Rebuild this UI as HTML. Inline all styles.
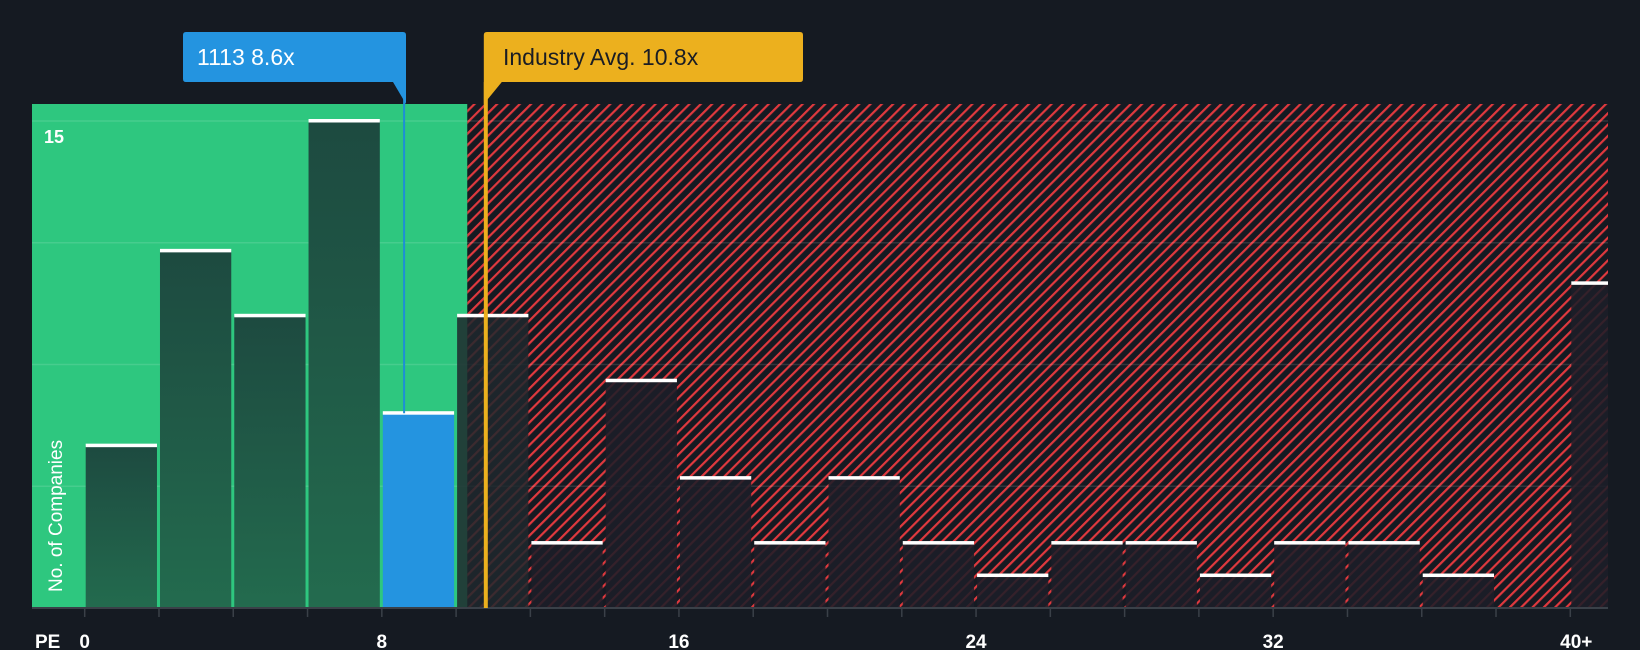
<!DOCTYPE html>
<html><head><meta charset="utf-8"><style>
html,body{margin:0;padding:0;background:#151a22;}
svg{display:block;font-family:"Liberation Sans",sans-serif;}
</style></head><body>
<svg id="chart" width="1640" height="650" viewBox="0 0 1640 650" xmlns="http://www.w3.org/2000/svg">
<defs>
<pattern id="hatch" patternUnits="userSpaceOnUse" width="8" height="8" patternTransform="rotate(45)">
<rect width="8" height="8" fill="#151a22"/>
<rect x="0" y="0" width="2.2" height="8" fill="#e0393e"/>
</pattern>
<linearGradient id="gbar" x1="0" y1="0" x2="0" y2="1">
<stop offset="0" stop-color="#1d4a40"/><stop offset="1" stop-color="#236b4e"/>
</linearGradient>
</defs>
<rect width="1640" height="650" fill="#151a22"/>
<g id="plot"></g>
</svg>
<script>
const binStarts = [0,2,4,6,8,10,12,14,16,18,20,22,24,26,28,30,32,34,36,38,40];
const counts = [5,11,9,15,6,9,2,7,4,2,4,2,1,2,2,1,2,2,1,0,10];
const highlightBin = 4;
const xTickValues = [0,8,16,24,32,40];
const xTickLabels = ["0","8","16","24","32","40+"];
const companyPE = 8.6;
const industryPE = 10.8;
const fairLimit = 10.3;
const yMaxLabel = 15;

const NS="http://www.w3.org/2000/svg";
const g=document.getElementById('plot');
const L=32, R=1608, T=104, B=608;
const x=v=>84.7+v*37.14;
const y=v=>B-v*(B-121)/15;
function mk(tag,attrs,parent){const e=document.createElementNS(NS,tag);for(const k in attrs)e.setAttribute(k,attrs[k]);(parent||g).appendChild(e);return e;}

let e;
e=mk('rect',{x:x(fairLimit),y:T,width:R-x(fairLimit),height:B-T,fill:'url(#hatch)'});


e=mk('rect',{x:L,y:T,width:x(fairLimit)-L,height:B-T,fill:'#2ec77f'});


for(let i=0;i<=4;i++){
  const v=i*3.75;
  e=mk('line',{x1:L,x2:R,y1:y(v),y2:y(v),stroke:'rgba(255,255,255,0.12)','stroke-width':1.5});
  
  
}
binStarts.forEach((s,i)=>{
  const c=counts[i]; if(!c) return;
  const x0=x(s)+1, x1=Math.min(x(s+2)-2,R);
  const inGreen = x1<=x(fairLimit)+40 && s<10;
  let fill = i===highlightBin ? '#2494e0' : (s<10 ? 'url(#gbar)' : (s<12 ? 'rgba(30,40,45,0.85)':'rgba(28,30,40,0.88)'));
  e=mk('rect',{x:x0,y:y(c),width:x1-x0,height:B-y(c),fill:fill});
  
  
  e=mk('rect',{x:x0,y:y(c)-2,width:x1-x0,height:3.5,fill:'#ffffff'});
  
  
});
e=mk('line',{x1:L,x2:R,y1:B,y2:B,stroke:'#3a4048','stroke-width':2});


binStarts.forEach(s=>{
  e=mk('line',{x1:x(s),x2:x(s),y1:B,y2:B+9,stroke:'#3a4048','stroke-width':1.5});
  
  
});
xTickValues.forEach((v,i)=>{
  e=mk('text',{x:x(v)+(i===5?6:0),y:648,fill:'#ffffff','font-size':19,'font-weight':'bold','text-anchor':'middle'});
  e.textContent=xTickLabels[i];
  
  
});
e=mk('text',{x:35,y:648,fill:'#ffffff','font-size':19,'font-weight':'bold'});e.textContent='PE';


e=mk('text',{x:44,y:143,fill:'#ffffff','font-size':18,'font-weight':'bold'});e.textContent=String(yMaxLabel);


e=mk('text',{x:0,y:0,fill:'#ffffff','font-size':19,transform:'translate(62,592) rotate(-90)'});e.textContent='No. of Companies';


// company marker
const cx=x(companyPE);
e=mk('line',{x1:cx,x2:cx,y1:82,y2:y(counts[highlightBin]),stroke:'#1e8fd6','stroke-width':2});


e=mk('path',{d:`M183 35 Q183 32 186 32 L403 32 Q406 32 406 35 L406 104 L393 82 L186 82 Q183 82 183 79 Z`,fill:'#2494e0'});


e=mk('text',{x:197,y:65,fill:'#ffffff','font-size':23});e.textContent='1113 8.6x';


// industry marker
const ix=x(industryPE);
e=mk('line',{x1:ix,x2:ix,y1:82,y2:B,stroke:'#ecb01e','stroke-width':4});


e=mk('path',{d:`M${ix-2} 35 Q${ix-2} 32 ${ix+1} 32 L800 32 Q803 32 803 35 L803 79 Q803 82 800 82 L${ix+16} 82 L${ix-2} 104 Z`,fill:'#ecb01e'});


e=mk('text',{x:503,y:65,fill:'#1a1d24','font-size':23});e.textContent='Industry Avg. 10.8x';


</script>
</body></html>
